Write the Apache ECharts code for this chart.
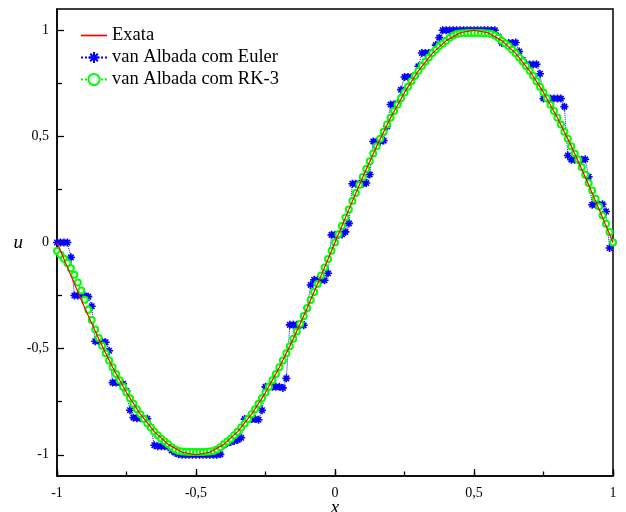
<!DOCTYPE html>
<html>
<head>
<meta charset="utf-8">
<script src="https://cdn.jsdelivr.net/npm/echarts@6/dist/echarts.min.js"></script>
<style>html,body{margin:0;padding:0;background:#fff;}#c{width:626px;height:512px;}</style>
</head>
<body>
<div id="c"></div>
<script>
// Grid of x values (shared by both numerical solutions)
const xs = [
-1, -0.9875, -0.975, -0.9625, -0.95, -0.9375, -0.925, -0.9125, -0.9, -0.8875,
-0.875, -0.8625, -0.85, -0.8375, -0.825, -0.8125, -0.8, -0.7875, -0.775, -0.7625,
-0.75, -0.7375, -0.725, -0.7125, -0.7, -0.6875, -0.675, -0.6625, -0.65, -0.6375,
-0.625, -0.6125, -0.6, -0.5875, -0.575, -0.5625, -0.55, -0.5375, -0.525, -0.5125,
-0.5, -0.4875, -0.475, -0.4625, -0.45, -0.4375, -0.425, -0.4125, -0.4, -0.3875,
-0.375, -0.3625, -0.35, -0.3375, -0.325, -0.3125, -0.3, -0.2875, -0.275, -0.2625,
-0.25, -0.2375, -0.225, -0.2125, -0.2, -0.1875, -0.175, -0.1625, -0.15, -0.1375,
-0.125, -0.1125, -0.1, -0.0875, -0.075, -0.0625, -0.05, -0.0375, -0.025, -0.0125,
0, 0.0125, 0.025, 0.0375, 0.05, 0.0625, 0.075, 0.0875, 0.1, 0.1125,
0.125, 0.1375, 0.15, 0.1625, 0.175, 0.1875, 0.2, 0.2125, 0.225, 0.2375,
0.25, 0.2625, 0.275, 0.2875, 0.3, 0.3125, 0.325, 0.3375, 0.35, 0.3625,
0.375, 0.3875, 0.4, 0.4125, 0.425, 0.4375, 0.45, 0.4625, 0.475, 0.4875,
0.5, 0.5125, 0.525, 0.5375, 0.55, 0.5625, 0.575, 0.5875, 0.6, 0.6125,
0.625, 0.6375, 0.65, 0.6625, 0.675, 0.6875, 0.7, 0.7125, 0.725, 0.7375,
0.75, 0.7625, 0.775, 0.7875, 0.8, 0.8125, 0.825, 0.8375, 0.85, 0.8625,
0.875, 0.8875, 0.9, 0.9125, 0.925, 0.9375, 0.95, 0.9625, 0.975, 0.9875,
1
];

// van Albada com Euler
const eulerU = [
0, 0, 0, 0, -0.07, -0.25, -0.25, -0.25, -0.25, -0.255,
-0.30, -0.465, -0.465, -0.467, -0.47, -0.51, -0.66, -0.66, -0.66, -0.665,
-0.70, -0.79, -0.825, -0.828, -0.828, -0.83, -0.83, -0.87, -0.955, -0.96,
-0.96, -0.96, -0.962, -0.98, -0.99, -0.997, -1.0, -1.0, -1.0, -1.0,
-1.0, -1.0, -1.0, -1.0, -1.0, -1.0, -1.0, -0.998, -0.955, -0.945,
-0.94, -0.935, -0.93, -0.92, -0.832, -0.832, -0.832, -0.832, -0.835, -0.79,
-0.68, -0.68, -0.68, -0.68, -0.68, -0.685, -0.64, -0.388, -0.388, -0.388,
-0.388, -0.39, -0.31, -0.2, -0.176, -0.176, -0.176, -0.178, -0.145, 0.036,
0.036, 0.036, 0.038, 0.05, 0.09, 0.277, 0.277, 0.277, 0.277, 0.28,
0.32, 0.476, 0.476, 0.476, 0.48, 0.547, 0.65, 0.65, 0.655, 0.72,
0.78, 0.78, 0.78, 0.785, 0.83, 0.893, 0.893, 0.893, 0.895, 0.93,
0.965, 1.0, 1.0, 1.0, 1.0, 1.0, 1.0, 1.0, 1.0, 1.0,
1.0, 1.0, 1.0, 1.0, 1.0, 1.0, 1.0, 0.97, 0.94, 0.94,
0.94, 0.94, 0.942, 0.90, 0.86, 0.838, 0.838, 0.838, 0.84, 0.795,
0.678, 0.678, 0.678, 0.678, 0.678, 0.678, 0.64, 0.41, 0.39, 0.39,
0.39, 0.39, 0.392, 0.31, 0.178, 0.178, 0.178, 0.18, 0.146, -0.026,
0
];

// van Albada com RK-3
const rk3U = [
-0.04, -0.058, -0.077, -0.097, -0.121, -0.152, -0.189, -0.226, -0.27, -0.317,
-0.365, -0.41, -0.45, -0.486, -0.522, -0.556, -0.588, -0.619, -0.649, -0.679,
-0.707, -0.734, -0.760, -0.785, -0.809, -0.831, -0.853, -0.872, -0.891, -0.908,
-0.924, -0.938, -0.951, -0.965, -0.975, -0.982, -0.985, -0.986, -0.987, -0.987,
-0.987, -0.987, -0.987, -0.986, -0.985, -0.982, -0.975, -0.965, -0.951, -0.938,
-0.924, -0.908, -0.891, -0.872, -0.853, -0.831, -0.809, -0.785, -0.760, -0.734,
-0.707, -0.679, -0.649, -0.619, -0.588, -0.556, -0.522, -0.489, -0.454, -0.419,
-0.383, -0.346, -0.309, -0.271, -0.233, -0.195, -0.156, -0.118, -0.078, -0.039,
0, 0.039, 0.078, 0.118, 0.156, 0.195, 0.233, 0.271, 0.309, 0.346,
0.383, 0.419, 0.454, 0.489, 0.522, 0.556, 0.588, 0.619, 0.649, 0.679,
0.707, 0.734, 0.760, 0.785, 0.809, 0.831, 0.853, 0.872, 0.891, 0.908,
0.924, 0.938, 0.951, 0.965, 0.975, 0.982, 0.985, 0.986, 0.987, 0.987,
0.987, 0.987, 0.987, 0.986, 0.985, 0.982, 0.975, 0.965, 0.951, 0.938,
0.924, 0.908, 0.891, 0.872, 0.853, 0.831, 0.809, 0.785, 0.760, 0.734,
0.707, 0.679, 0.649, 0.619, 0.588, 0.556, 0.522, 0.489, 0.454, 0.419,
0.39, 0.355, 0.319, 0.28, 0.245, 0.206, 0.17, 0.127, 0.088, 0.049,
0
];

// Exata
const exactX = [
-1, -0.95, -0.9, -0.85, -0.8, -0.75, -0.7, -0.65, -0.6, -0.55,
-0.5, -0.45, -0.4, -0.35, -0.3, -0.25, -0.2, -0.15, -0.1, -0.05,
0, 0.05, 0.1, 0.15, 0.2, 0.25, 0.3, 0.35, 0.4, 0.45,
0.5, 0.55, 0.6, 0.65, 0.7, 0.75, 0.8, 0.85, 0.9, 0.95,
1
];
const exactU = [
0, -0.156, -0.309, -0.454, -0.588, -0.707, -0.809, -0.891, -0.951, -0.988,
-1, -0.988, -0.951, -0.891, -0.809, -0.707, -0.588, -0.454, -0.309, -0.156,
0, 0.156, 0.309, 0.454, 0.588, 0.707, 0.809, 0.891, 0.951, 0.988,
1, 0.988, 0.951, 0.891, 0.809, 0.707, 0.588, 0.454, 0.309, 0.156,
0
];

const seriesNames = ['Exata', 'van Albada com Euler', 'van Albada com RK-3'];
const yMajorTicks = [-1, -0.5, 0, 0.5, 1];
const yMinorTicks = [-0.75, -0.25, 0.25, 0.75];

const FONT = 'Liberation Serif';
const fmt = v => String(v).replace('.', ',');
const asterisk = 'path://M5,0L5,10M0,5L10,5M1.6,1.6L8.4,8.4M1.6,8.4L8.4,1.6';

const chart = echarts.init(document.getElementById('c'), null, {renderer: 'canvas'});
chart.setOption({
  animation: false,
  backgroundColor: '#fff',
  grid: {left: 57, right: 13, top: 9, bottom: 36, show: true, borderColor: '#000', borderWidth: 1.5,
         backgroundColor: 'transparent', containLabel: false, outerBoundsMode: 'none'},
  legend: {
    orient: 'vertical', left: 75, top: 21, itemWidth: 26, itemHeight: 14, itemGap: 3,
    textStyle: {fontFamily: FONT, fontSize: 18.5, color: '#000'},
    data: [
      {name: seriesNames[0], icon: 'path://M0,0L20,0L20,1.3L0,1.3Z'},
      {name: seriesNames[1]},
      {name: seriesNames[2]}
    ]
  },
  xAxis: [
    {type: 'value', min: -1, max: 1, interval: 0.5, position: 'bottom',
     name: 'x', nameLocation: 'middle', nameGap: 22, nameMoveOverlap: false,
     nameTextStyle: {fontFamily: FONT, fontStyle: 'italic', fontSize: 19, color: '#000'},
     axisLine: {show: true, onZero: false, lineStyle: {color: '#000', width: 1.5}},
     axisTick: {show: true, inside: true, length: 7, lineStyle: {color: '#000', width: 1.3}},
     axisLabel: {formatter: fmt, fontFamily: FONT, fontSize: 14, color: '#000', margin: 10},
     splitLine: {show: false}},
    {type: 'value', min: -1, max: 1, interval: 0.25, position: 'bottom', offset: 0,
     axisLine: {show: false, onZero: false},
     axisTick: {show: true, inside: true, length: 4.5, lineStyle: {color: '#000', width: 1.3}},
     axisLabel: {show: false}, splitLine: {show: false}}
  ],
  yAxis: [
    {type: 'value', min: -1.1, max: 1.1, position: 'left',
     name: 'u', nameLocation: 'middle', nameGap: 34, nameRotate: 0, nameMoveOverlap: false,
     nameTextStyle: {fontFamily: FONT, fontStyle: 'italic', fontSize: 19, color: '#000'},
     axisLine: {show: true, onZero: false, lineStyle: {color: '#000', width: 1.5}},
     axisTick: {show: true, inside: true, length: 7, customValues: yMajorTicks, lineStyle: {color: '#000', width: 1.3}},
     axisLabel: {customValues: yMajorTicks, formatter: fmt, fontFamily: FONT, fontSize: 14, color: '#000', margin: 8},
     splitLine: {show: false}},
    {type: 'value', min: -1.1, max: 1.1, position: 'left', offset: 0,
     axisLine: {show: false, onZero: false},
     axisTick: {show: true, inside: true, length: 5, customValues: yMinorTicks, lineStyle: {color: '#000', width: 1.3}},
     axisLabel: {show: false}, splitLine: {show: false}}
  ],
  series: [
    {name: seriesNames[0], type: 'line', xAxisIndex: 0, yAxisIndex: 0, z: 4,
     data: exactX.map((x, i) => [x, exactU[i]]),
     symbol: 'none', itemStyle: {color: '#ff0000'},
     lineStyle: {color: '#ff0000', width: 1.2}},
    {name: seriesNames[1], type: 'line', xAxisIndex: 0, yAxisIndex: 0, z: 2,
     data: xs.map((x, i) => [x, eulerU[i]]),
     symbol: asterisk, symbolSize: 8, showAllSymbol: true,
     itemStyle: {color: '#0000ff', borderColor: '#0000ff', borderWidth: 1.6},
     lineStyle: {color: '#0000ff', width: 1, type: 'dotted'}},
    {name: seriesNames[2], type: 'line', xAxisIndex: 0, yAxisIndex: 0, z: 3,
     data: xs.map((x, i) => [x, rk3U[i]]),
     symbol: 'emptyCircle', symbolSize: 6, showAllSymbol: true,
     itemStyle: {color: '#00ff00', borderColor: '#00ff00', borderWidth: 1},
     lineStyle: {color: '#00ff00', width: 1, type: 'dotted'}}
  ]
});
</script>
</body>
</html>
